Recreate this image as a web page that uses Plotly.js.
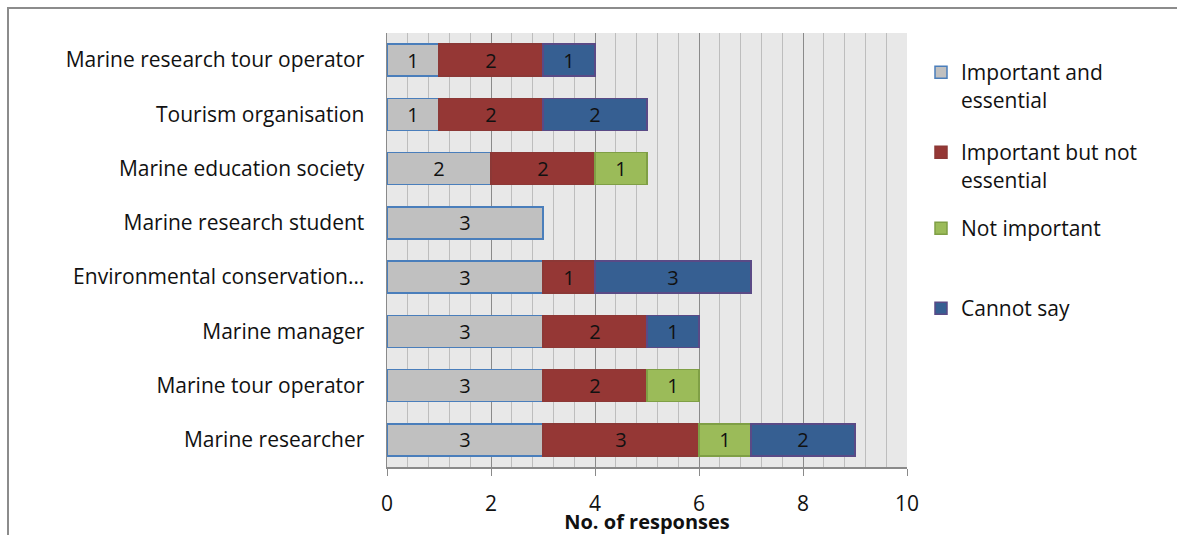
<!DOCTYPE html>
<html>
<head>
<meta charset="utf-8">
<script src="https://cdn.plot.ly/plotly-3.0.1.min.js"></script>
<style>
  html, body { margin: 0; padding: 0; background: #fff; }
  #wrap { position: relative; width: 1177px; height: 535px; overflow: hidden; }
  #chart { width: 1177px; height: 535px; }
  #frame {
    position: absolute; left: 7px; top: 7px; right: -10px; bottom: -10px;
    border-top: 2px solid #8c8c8c; border-left: 2px solid #8c8c8c;
    pointer-events: none;
  }
</style>
</head>
<body>
<div id="wrap">
  <div id="chart"></div>
  <div id="frame"></div>
</div>
<script>
// Respondent groups, listed top to bottom as they appear on the chart
const groups = [
  "Marine research tour operator",
  "Tourism organisation",
  "Marine education society",
  "Marine research student",
  "Environmental conservation…",
  "Marine manager",
  "Marine tour operator",
  "Marine researcher"
];

// Number of responses per rating, same order as groups
const importantEssential    = [1, 1, 2, 3, 3, 3, 3, 3];
const importantNotEssential = [2, 2, 2, 0, 1, 2, 2, 3];
const notImportant          = [0, 0, 1, 0, 0, 0, 1, 1];
const cannotSay             = [1, 2, 0, 0, 3, 1, 0, 2];

const xTicks = [0, 2, 4, 6, 8, 10];

const FONT = "'Open Sans', Lato, sans-serif";
const LABEL_SIZE = 21;

function series(name, values, fill, edge, legendId) {
  return {
    type: "bar",
    orientation: "h",
    name: name,
    y: groups,
    x: values.map(v => (v === 0 ? null : v)),
    text: values.map(v => (v === 0 ? "" : String(v))),
    textposition: "inside",
    insidetextanchor: "middle",
    textangle: 0,
    constraintext: "none",
    textfont: { family: FONT, size: 20, color: "#111" },
    marker: { color: fill, line: { color: edge, width: 1.5 } },
    legend: legendId,
    hoverinfo: "x+name"
  };
}

const traces = [
  series("Important and<br>essential", importantEssential, "#c0c0c0", "#4a7ebb", "legend"),
  series("Important but not<br>essential", importantNotEssential, "#953735", "#8c3836", "legend2"),
  series("Not important", notImportant, "#9bbb59", "#7f9f45", "legend3"),
  series("Cannot say", cannotSay, "#365f92", "#5a4a86", "legend4")
];

// Chart area in pixels: x 387..907, y 33..467
const plotTop = 33, plotH = 434;
function legendAt(py) {
  return {
    x: (921 - 387) / 520, xanchor: "left",
    y: 1 - (py - plotTop) / plotH, yanchor: "top",
    valign: "top",
    bgcolor: "rgba(0,0,0,0)",
    font: { family: FONT, size: LABEL_SIZE, color: "#111" },
    itemclick: false, itemdoubleclick: false
  };
}

const layout = {
  width: 1177,
  height: 535,
  margin: { l: 387, r: 270, t: 33, b: 68 },
  paper_bgcolor: "#ffffff",
  plot_bgcolor: "#e8e8e8",
  barmode: "stack",
  bargap: 0.41,
  showlegend: true,
  font: { family: FONT, size: LABEL_SIZE, color: "#111" },
  xaxis: {
    range: [0, 10],
    tickvals: xTicks,
    ticktext: xTicks.map(String),
    showgrid: true,
    gridcolor: "#8a8a8a",
    gridwidth: 1,
    minor: { dtick: 0.4, showgrid: true, gridcolor: "#bdbdbd", gridwidth: 1 },
    showline: true,
    linecolor: "#8a8a8a",
    linewidth: 1.5,
    ticks: "outside",
    ticklen: 7,
    tickcolor: "#8a8a8a",
    tickfont: { family: FONT, size: LABEL_SIZE, color: "#111" },
    ticklabelstandoff: 10,
    zeroline: false,
    fixedrange: true,
    title: {
      text: "<b>No. of responses</b>",
      font: { family: FONT, size: 20, color: "#111" },
      standoff: 3
    }
  },
  yaxis: {
    type: "category",
    categoryorder: "array",
    categoryarray: groups,
    autorange: "reversed",
    showgrid: false,
    showline: true,
    linecolor: "#8a8a8a",
    linewidth: 1.5,
    ticks: "",
    ticklabelstandoff: 17,
    tickfont: { family: FONT, size: LABEL_SIZE, color: "#111" },
    zeroline: false,
    fixedrange: true
  },
  legend: legendAt(52),
  legend2: legendAt(132),
  legend3: legendAt(208),
  legend4: legendAt(288)
};

Plotly.newPlot("chart", traces, layout, { displayModeBar: false, staticPlot: true });
</script>
</body>
</html>
